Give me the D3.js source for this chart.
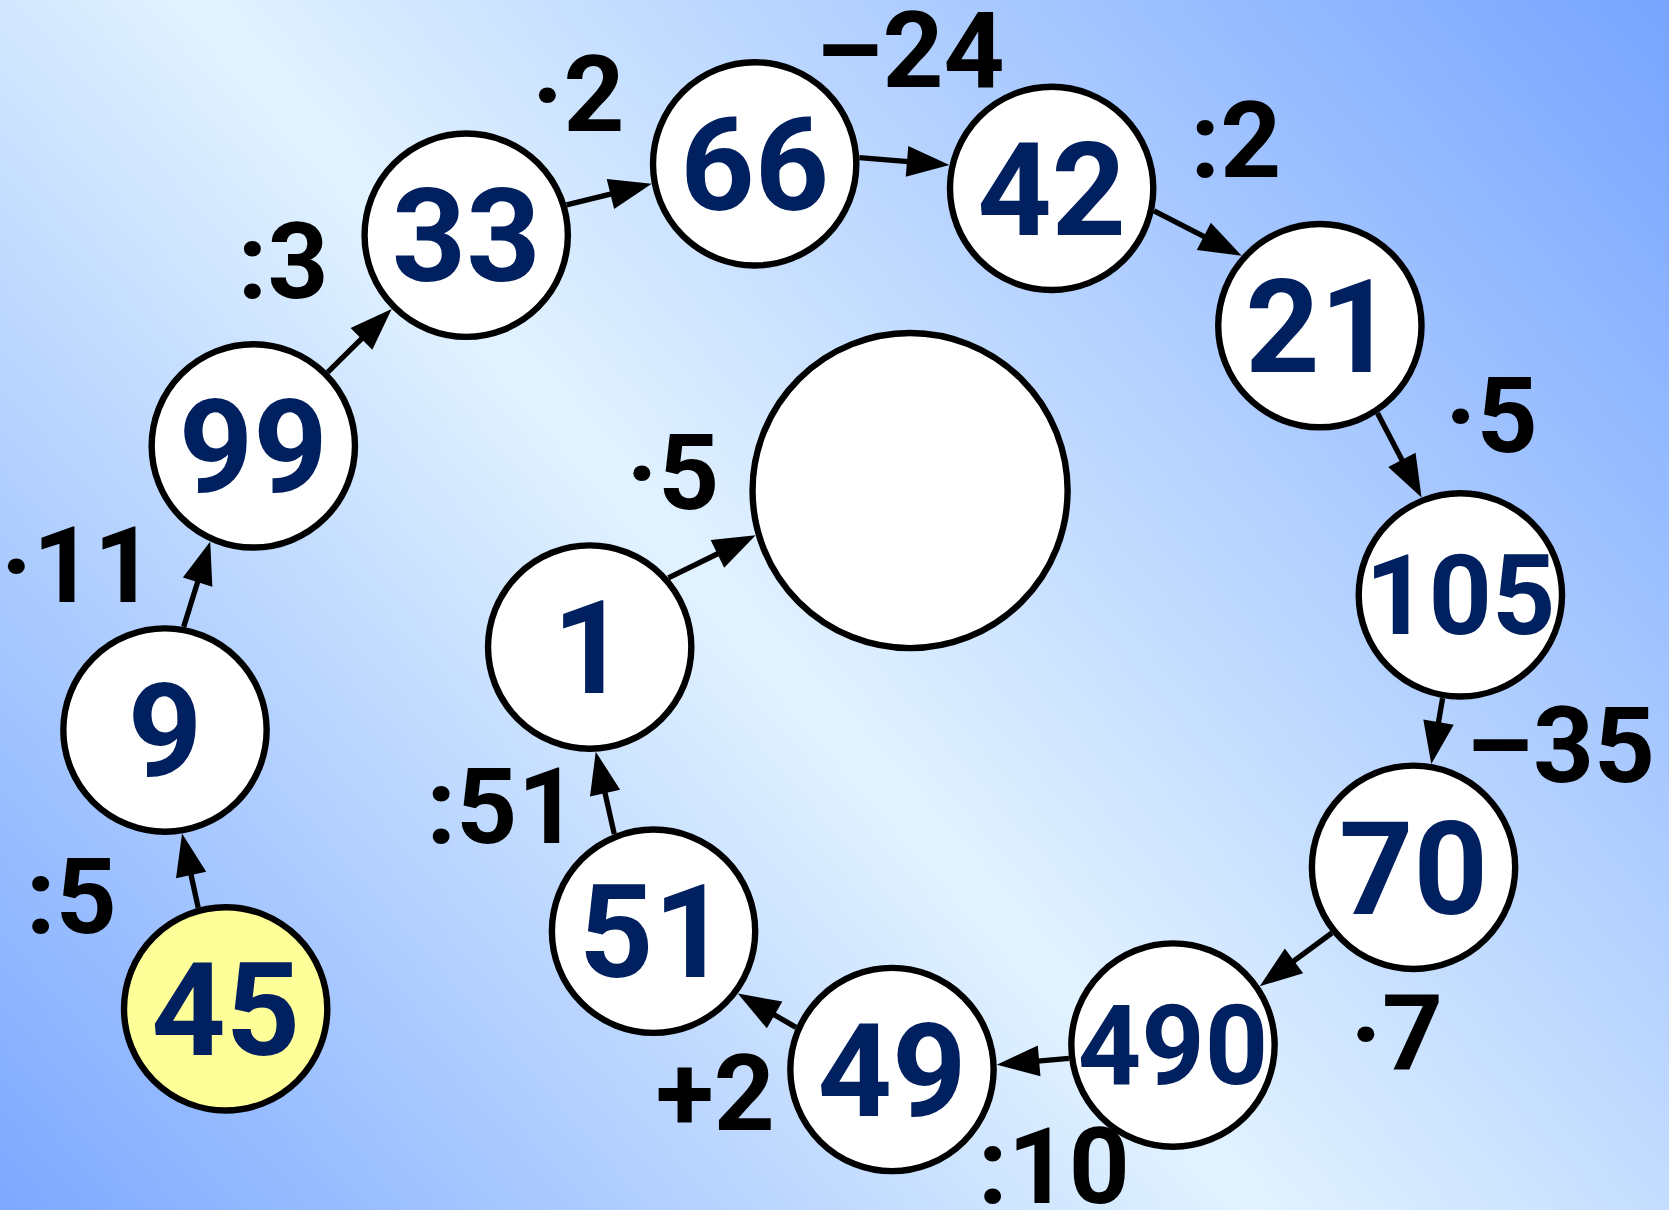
<!DOCTYPE html>
<html>
<head>
<meta charset="utf-8">
<script src="https://cdn.jsdelivr.net/npm/d3@7"></script>
<style>
  html, body { margin: 0; padding: 0; background: #fff; }
  svg { display: block; }
  svg text { font-family: Roboto, "Liberation Sans", Arial, sans-serif; font-weight: 700; }
</style>
</head>
<body>
<div id="chart"></div>
<script>
// ---- data: the chain of numbers and the operation on each arrow ----
const nodeValues = ["45", "9", "99", "33", "66", "42", "21", "105", "70", "490", "49", "51", "1", ""];
const operations = [":5", "·11", ":3", "·2", "–24", ":2", "·5", "–35", "·7", ":10", "+2", ":51", "·5"];

// ---- layout (drawing units of a 1568 x 1137 sheet) ----
const nodeX = [212, 155, 238, 438, 709, 988, 1240, 1372, 1328, 1102, 838, 614, 554, 855];
const nodeY = [948, 686, 419, 221, 154, 177, 306, 559, 815, 982, 1005, 875, 608, 461];
const edgeShift = [5, 12, 0, 5, 14, 25, 10, 0, 4, 4, 11, 16, 26];
const labelX = [67, 73, 266, 543, 855, 1161, 1401, 1466, 1312, 990, 672, 472, 632];
const labelY = [877, 566, 280, 123, 82, 166, 425, 735, 1005, 1130, 1062, 792, 478];

const W = 1669, H = 1210;
const sx = d3.scaleLinear().domain([0, 1568]).range([0, W]);
const sy = d3.scaleLinear().domain([0, 1137]).range([0, H]);
const k = W / 1568;

const R_SMALL = 95.5, R_BIG = 148, STROKE = 6;
const ARROW_LEN = 40, ARROW_HALF = 14.5;

const nodes = nodeValues.map((v, i) => ({
    value: v,
    x: nodeX[i],
    y: nodeY[i],
    r: i === nodeValues.length - 1 ? R_BIG : R_SMALL,
    start: i === 0
}));

const svg = d3.select("#chart").append("svg")
    .attr("width", W)
    .attr("height", H);

// background gradient
const defs = svg.append("defs");
const grad = defs.append("linearGradient")
    .attr("id", "bg")
    .attr("gradientUnits", "userSpaceOnUse")
    .attr("x1", sx(-486)).attr("y1", sy(582))
    .attr("x2", sx(964)).attr("y2", sy(-689));
grad.append("stop").attr("offset", 0).attr("stop-color", "#7ca8ff");
grad.append("stop").attr("offset", 0.46).attr("stop-color", "#e2f3ff");
grad.append("stop").attr("offset", 1).attr("stop-color", "#76a4ff");

svg.append("rect")
    .attr("width", W)
    .attr("height", H)
    .attr("fill", "url(#bg)");

// circles
const g = svg.selectAll("g.node")
    .data(nodes)
    .enter()
    .append("g")
    .attr("class", "node");

g.append("circle")
    .attr("cx", d => sx(d.x))
    .attr("cy", d => sy(d.y))
    .attr("r", d => d.r * k)
    .attr("fill", d => d.start ? "#ffff99" : "#ffffff")
    .attr("stroke", "#000")
    .attr("stroke-width", STROKE * k);

g.append("text")
    .attr("x", d => sx(d.x))
    .attr("y", d => {
        let fs = d.value.length > 2 ? 104 : 122;
        return sy(d.y + fs * 0.356);
    })
    .attr("text-anchor", "middle")
    .attr("font-size", d => (d.value.length > 2 ? 104 : 122) * k)
    .attr("fill", "#002060")
    .text(d => d.value);

// arrows between neighbours
const edges = operations.map((op, i) => {
    let a = nodes[i], b = nodes[i + 1];
    let dx = b.x - a.x, dy = b.y - a.y;
    let len = Math.sqrt(dx * dx + dy * dy);
    let ux = dx / len, uy = dy / len;
    let nx = uy, ny = -ux;
    let d = edgeShift[i];
    let ra = a.r + STROKE / 2, rb = b.r + STROKE / 2;
    let ta = Math.sqrt(ra * ra - d * d);
    let tb = len - Math.sqrt(rb * rb - d * d);
    return {
        x1: a.x + nx * d + ux * ta,
        y1: a.y + ny * d + uy * ta,
        x2: a.x + nx * d + ux * tb,
        y2: a.y + ny * d + uy * tb,
        ux: ux, uy: uy, nx: nx, ny: ny
    };
});

const eg = svg.selectAll("g.edge")
    .data(edges)
    .enter()
    .append("g")
    .attr("class", "edge");

eg.append("line")
    .attr("x1", d => sx(d.x1))
    .attr("y1", d => sy(d.y1))
    .attr("x2", d => sx(d.x2 - d.ux * (ARROW_LEN - 4)))
    .attr("y2", d => sy(d.y2 - d.uy * (ARROW_LEN - 4)))
    .attr("stroke", "#000")
    .attr("stroke-width", 5 * k);

eg.append("path")
    .attr("d", d => {
        let bx = d.x2 - d.ux * ARROW_LEN, by = d.y2 - d.uy * ARROW_LEN;
        let p = [
            [d.x2, d.y2],
            [bx + d.nx * ARROW_HALF, by + d.ny * ARROW_HALF],
            [bx - d.nx * ARROW_HALF, by - d.ny * ARROW_HALF]
        ];
        return "M" + p.map(q => sx(q[0]) + "," + sy(q[1])).join("L") + "Z";
    })
    .attr("fill", "#000");

// operation labels
svg.selectAll("text.op")
    .data(operations)
    .enter()
    .append("text")
    .attr("class", "op")
    .attr("x", (d, i) => sx(labelX[i]))
    .attr("y", (d, i) => sy(labelY[i]))
    .attr("text-anchor", "middle")
    .attr("font-size", 100 * k)
    .attr("fill", "#000")
    .text(d => d);
</script>
</body>
</html>
